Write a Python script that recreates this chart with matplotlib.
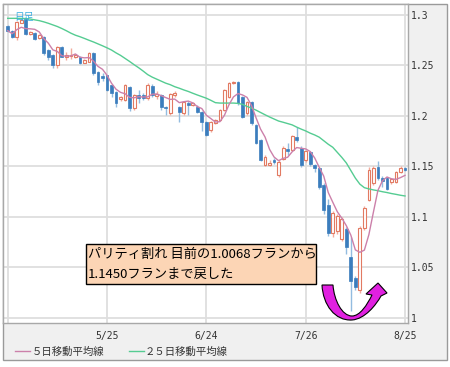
import numpy as np
import pandas as pd
import matplotlib
matplotlib.use("Agg")
from matplotlib import pyplot as plt
from matplotlib.patches import Rectangle, PathPatch
from matplotlib.path import Path

# daily candles, 4/25 .. 8/25 (trading days)
opens = [1.2891, 1.2845, 1.2785, 1.2924, 1.2957, 1.2812, 1.2825, 1.2770, 1.2785, 1.2653,
         1.2604, 1.2505, 1.2680, 1.2587, 1.2590, 1.2585, 1.2587, 1.2528, 1.2538, 1.2627,
         1.2439, 1.2400, 1.2406, 1.2307, 1.2240, 1.2165, 1.2160, 1.2290, 1.2076, 1.2208,
         1.2210, 1.2175, 1.2300, 1.2200, 1.2210, 1.2090, 1.2026, 1.2210, 1.2092, 1.2026,
         1.2130, 1.2110, 1.2092, 1.2043, 1.1944, 1.1860, 1.1934, 1.1960, 1.2060, 1.2190,
         1.2330, 1.2340, 1.2190, 1.2026, 1.2140, 1.1910, 1.1760, 1.1515, 1.1515, 1.1564,
         1.1416, 1.1570, 1.1670, 1.1660, 1.1790, 1.1680, 1.1560, 1.1640, 1.1510, 1.1480,
         1.1320, 1.1120, 1.0840, 1.0860, 1.0780, 1.0880, 1.0600, 1.0400, 1.0280, 1.0890,
         1.1170, 1.1340, 1.1490, 1.1390, 1.1390, 1.1350, 1.1350, 1.1450, 1.1480]
highs = [1.2905, 1.2850, 1.2940, 1.2967, 1.2975, 1.2845, 1.2830, 1.2810, 1.2790, 1.2660,
         1.2610, 1.2690, 1.2690, 1.2637, 1.2670, 1.2610, 1.2595, 1.2560, 1.2637, 1.2637,
         1.2445, 1.2425, 1.2410, 1.2310, 1.2245, 1.2200, 1.2320, 1.2300, 1.2220, 1.2258,
         1.2230, 1.2330, 1.2320, 1.2250, 1.2220, 1.2095, 1.2230, 1.2250, 1.2100, 1.2150,
         1.2150, 1.2140, 1.2110, 1.2050, 1.1950, 1.1950, 1.1970, 1.2070, 1.2270, 1.2340,
         1.2350, 1.2350, 1.2200, 1.2150, 1.2150, 1.1920, 1.1770, 1.1610, 1.1560, 1.1580,
         1.1560, 1.1700, 1.1730, 1.1810, 1.1890, 1.1700, 1.1660, 1.1650, 1.1520, 1.1490,
         1.1340, 1.1180, 1.1060, 1.1030, 1.1000, 1.0900, 1.0800, 1.0420, 1.0910, 1.1110,
         1.1490, 1.1500, 1.1550, 1.1410, 1.1400, 1.1390, 1.1460, 1.1500, 1.1490]
lows = [1.2835, 1.2775, 1.2752, 1.2918, 1.2800, 1.2805, 1.2755, 1.2762, 1.2604, 1.2554,
        1.2480, 1.2480, 1.2580, 1.2554, 1.2560, 1.2570, 1.2510, 1.2520, 1.2530, 1.2406,
        1.2307, 1.2350, 1.2250, 1.2190, 1.2090, 1.2150, 1.2150, 1.2050, 1.2060, 1.2126,
        1.2160, 1.2160, 1.2190, 1.2170, 1.2060, 1.2010, 1.2010, 1.2190, 1.1944, 1.2010,
        1.2010, 1.2100, 1.2030, 1.1855, 1.1800, 1.1840, 1.1920, 1.1950, 1.2050, 1.2180,
        1.2320, 1.2110, 1.1980, 1.2010, 1.1910, 1.1720, 1.1550, 1.1500, 1.1500, 1.1520,
        1.1400, 1.1560, 1.1610, 1.1650, 1.1740, 1.1490, 1.1540, 1.1500, 1.1450, 1.1280,
        1.1030, 1.0810, 1.0800, 1.0830, 1.0760, 1.0630, 1.0068, 1.0280, 1.0250, 1.0870,
        1.1160, 1.1320, 1.1370, 1.1300, 1.1270, 1.1330, 1.1340, 1.1440, 1.1460]
closes = [1.2845, 1.2785, 1.2934, 1.2950, 1.2812, 1.2835, 1.2760, 1.2802, 1.2620, 1.2587,
          1.2505, 1.2680, 1.2587, 1.2604, 1.2600, 1.2600, 1.2520, 1.2554, 1.2620, 1.2422,
          1.2340, 1.2375, 1.2258, 1.2225, 1.2126, 1.2185, 1.2307, 1.2076, 1.2208, 1.2175,
          1.2175, 1.2310, 1.2210, 1.2220, 1.2092, 1.2080, 1.2220, 1.2225, 1.2043, 1.2140,
          1.2110, 1.2130, 1.2043, 1.1944, 1.1810, 1.1944, 1.1960, 1.2060, 1.2260, 1.2330,
          1.2335, 1.2125, 1.1993, 1.2140, 1.1927, 1.1729, 1.1564, 1.1597, 1.1530, 1.1548,
          1.1548, 1.1680, 1.1650, 1.1800, 1.1760, 1.1510, 1.1650, 1.1520, 1.1480, 1.1300,
          1.1070, 1.0840, 1.1040, 1.1010, 1.0980, 1.0700, 1.0370, 1.0310, 1.0890, 1.1090,
          1.1470, 1.1480, 1.1390, 1.1360, 1.1280, 1.1380, 1.1450, 1.1480, 1.1470]

# 25-day moving average as drawn on the chart
ma25 = [1.2967, 1.2967, 1.2967, 1.2966, 1.2965, 1.2960, 1.2952, 1.2944, 1.2932, 1.2918,
        1.2902, 1.2886, 1.2866, 1.2844, 1.2820, 1.2800, 1.2785, 1.2768, 1.2750, 1.2733,
        1.2714, 1.2695, 1.2675, 1.2653, 1.2625, 1.2600, 1.2570, 1.2540, 1.2508, 1.2478,
        1.2445, 1.2410, 1.2385, 1.2365, 1.2345, 1.2325, 1.2310, 1.2290, 1.2275, 1.2258,
        1.2243, 1.2225, 1.2208, 1.2192, 1.2176, 1.2155, 1.2132, 1.2128, 1.2128, 1.2128,
        1.2128, 1.2125, 1.2115, 1.2095, 1.2078, 1.2058, 1.2035, 1.2012, 1.1990, 1.1970,
        1.1950, 1.1938, 1.1925, 1.1912, 1.1890, 1.1870, 1.1852, 1.1830, 1.1812, 1.1790,
        1.1755, 1.1720, 1.1690, 1.1640, 1.1590, 1.1535, 1.1460, 1.1385, 1.1325, 1.1290,
        1.1278, 1.1268, 1.1260, 1.1250, 1.1242, 1.1232, 1.1224, 1.1215, 1.1208]

date_ticks = [0, 22, 44, 66, 88]
date_labels = ["", "5/25", "6/24", "7/26", "8/25"]
price_ticks = [1.0, 1.05, 1.1, 1.15, 1.2, 1.25, 1.3]
price_labels = ["1", "1.05", "1.1", "1.15", "1.2", "1.25", "1.3"]

UP_EDGE = "#e27a62"
UP_WICK = "#f2ab9c"
DN_BODY = "#3b7dbd"
DN_WICK = "#93bce0"
MA5_COLOR = "#cc80aa"
MA25_COLOR = "#55cc92"
JP = ["Noto Sans CJK JP", "DejaVu Sans"]
MONO = "DejaVu Sans Mono"

df = pd.DataFrame({"open": opens, "high": highs, "low": lows, "close": closes, "ma25": ma25})
df["ma5"] = df["close"].rolling(5, min_periods=1).mean()
x = np.arange(len(df))
up = (df["close"] >= df["open"]).values

W, H = 450, 367
fig = plt.figure(figsize=(W / 100, H / 100), dpi=100)
fig.patch.set_facecolor("white")

# background panel
bg = fig.add_axes([0, 0, 1, 1], zorder=0)
bg.set_xlim(0, W)
bg.set_ylim(H, 0)
bg.axis("off")
bg.add_patch(Rectangle((2.5, 3.5), 444.5, 356, facecolor="#f0f0f0", edgecolor="#9a9a9a", lw=1))

# main price axes
ax = fig.add_axes([3 / W, 1 - 323 / H, 405 / W, 319 / H], zorder=2)
ax.set_facecolor("white")
ax.set_xlim(-1.04, 88.66)
ax.set_ylim(0.995, 1.3109)
for s in ax.spines.values():
    s.set_color("#a8a8a8")
    s.set_linewidth(1)
ax.set_xticks(date_ticks)
ax.set_xticklabels(date_labels, fontfamily=MONO, fontsize=7, color="#333333")
ax.set_yticks(price_ticks)
ax.set_yticklabels(price_labels, fontfamily=MONO, fontsize=7, color="#333333")
ax.yaxis.tick_right()
ax.tick_params(axis="x", length=0, pad=6)
ax.tick_params(axis="y", length=0, pad=2)
ax.grid(True, color="#dedede", lw=1.3)
ax.set_axisbelow(True)

# candles
body_lo = np.minimum(df["open"], df["close"]).values
body_h = np.maximum(np.abs(df["close"] - df["open"]).values, 0.0008)
ax.vlines(x[up], df["low"][up], df["high"][up], color=UP_WICK, lw=1, zorder=2)
ax.vlines(x[~up], df["low"][~up], df["high"][~up], color=DN_WICK, lw=1, zorder=2)
ax.bar(x[up], body_h[up], bottom=body_lo[up], width=0.62, facecolor="white",
       edgecolor=UP_EDGE, lw=0.8, zorder=3)
ax.bar(x[~up], body_h[~up], bottom=body_lo[~up], width=0.62, facecolor=DN_BODY,
       edgecolor=DN_BODY, lw=0.5, zorder=3)

# moving averages
ax.plot(x, df["ma25"], color=MA25_COLOR, lw=1, zorder=4)
ax.plot(x, df["ma5"], color=MA5_COLOR, lw=1, zorder=4)

ax.text(0.027, 0.975, "日足", transform=ax.transAxes, ha="left", va="top",
        fontfamily=JP, fontsize=7, color="#3aaee0", zorder=6)

# foreground: annotation, arrow, legend
fg = fig.add_axes([0, 0, 1, 1], zorder=5)
fg.set_xlim(0, W)
fg.set_ylim(H, 0)
fg.axis("off")

fg.add_patch(Rectangle((86, 244), 230, 40, facecolor="#fcd5b5", edgecolor="black", lw=1))
fg.text(88, 254, "パリティ割れ 目前の1.0068フランから", fontfamily=JP, fontsize=9.5,
        va="center", ha="left", color="black")
fg.text(88, 274, "1.1450フランまで戻した", fontfamily=JP, fontsize=9.5,
        va="center", ha="left", color="black")

verts = [(322, 285), (323, 305), (335, 321), (352, 320),
         (365, 319), (376, 305), (381, 296),
         (387, 293), (378, 283), (366, 294), (372, 295),
         (367, 305), (360, 316), (352, 316),
         (342, 316), (334, 300), (333, 285), (322, 285)]
codes = [Path.MOVETO, Path.CURVE4, Path.CURVE4, Path.CURVE4,
         Path.CURVE4, Path.CURVE4, Path.CURVE4,
         Path.LINETO, Path.LINETO, Path.LINETO, Path.LINETO,
         Path.CURVE4, Path.CURVE4, Path.CURVE4,
         Path.CURVE4, Path.CURVE4, Path.CURVE4, Path.CLOSEPOLY]
fg.add_patch(PathPatch(Path(verts, codes), facecolor="#e020e0", edgecolor="black", lw=0.8))

fg.plot([15, 30], [351, 351], color=MA5_COLOR, lw=1)
fg.text(32, 351.5, "５日移動平均線", fontfamily=JP, fontsize=7.5, va="center", ha="left", color="#333333")
fg.plot([129, 144], [351, 351], color=MA25_COLOR, lw=1)
fg.text(145, 351.5, "２５日移動平均線", fontfamily=JP, fontsize=7.5, va="center", ha="left", color="#333333")

fig.savefig("out.png", dpi=100)
